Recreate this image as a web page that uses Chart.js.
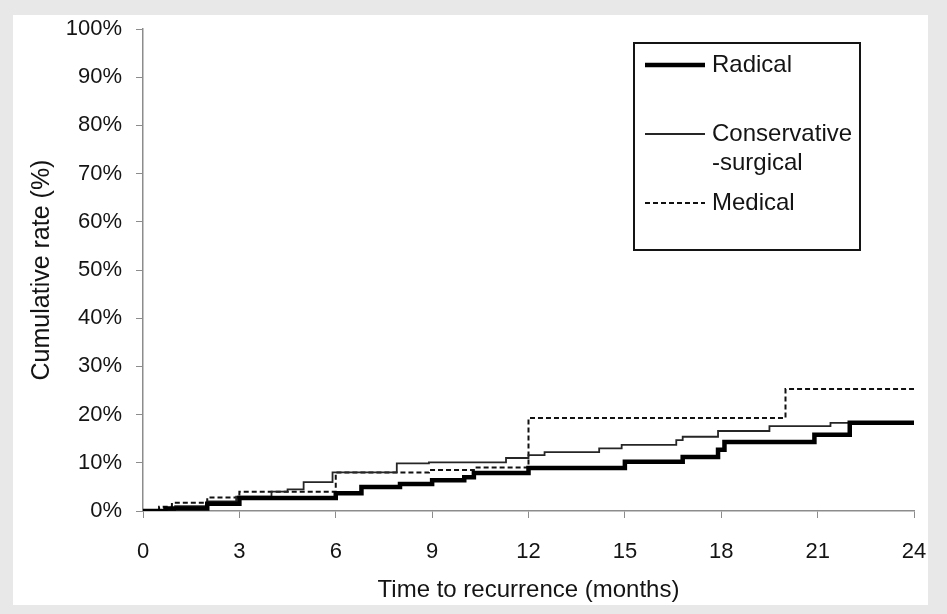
<!DOCTYPE html>
<html>
<head>
<meta charset="utf-8">
<script src="https://cdn.jsdelivr.net/npm/chart.js@4/dist/chart.umd.min.js"></script>
<style>
  html, body { margin: 0; padding: 0; background: #e8e8e8; }
  #frame { position: absolute; left: 13px; top: 15px; width: 915px; height: 590px; background: #fff; }
</style>
</head>
<body>
<div id="frame"><canvas id="km" width="915" height="590"></canvas></div>
<script>
// months at which each curve steps, and the cumulative rate (%) from that month on
const radicalMonths = [0, 0.7, 2, 3, 6, 6.8, 8, 9, 10, 10.3, 12, 15, 16.8, 17.9, 18.1, 20.9, 22, 24];
const radicalRate   = [0, 0.5, 1.5, 2.7, 3.7, 5.0, 5.6, 6.4, 7.0, 7.9, 8.9, 10.2, 11.2, 12.7, 14.3, 15.8, 18.3, 18.3];

const conservMonths = [0, 1, 2, 2.9, 4, 4.5, 5, 5.9, 7.9, 8.9, 11.3, 12, 12.5, 14.2, 14.9, 16.6, 16.8, 17.9, 19.5, 21.4, 24];
const conservRate   = [0, 1.0, 2.0, 3.0, 4.0, 4.5, 6.0, 8.0, 9.9, 10.1, 11.0, 11.6, 12.2, 13.0, 13.7, 14.7, 15.4, 16.6, 17.6, 18.3, 18.3];

const medMonths = [0, 0.5, 0.9, 2, 3, 6, 8.9, 10.3, 12, 20, 24];
const medRate   = [0, 0.9, 1.7, 2.8, 4.0, 8.0, 8.5, 9.0, 19.3, 25.3, 25.3];

const seriesNames = ['Radical', 'Conservative\n-surgical', 'Medical'];
const xTicks = [0, 3, 6, 9, 12, 15, 18, 21, 24];
const yTicks = [0, 10, 20, 30, 40, 50, 60, 70, 80, 90, 100];

function toPoints(xs, ys) {
    return xs.map((x, i) => ({x: x, y: ys[i]}));
}

const FONT = '"Liberation Sans", Arial, sans-serif';
const INK = '#141414';

//legend drawn as a framed box inside the plot, like the original
const boxLegend = {
    id: 'boxLegend',
    afterDraw(chart) {
        const ctx = chart.ctx;
        const bx = 621, by = 28, bw = 226, bh = 207;
        const rows = [50, 119, 188];
        ctx.save();
        ctx.strokeStyle = INK;
        ctx.lineWidth = 2;
        ctx.strokeRect(bx, by, bw, bh);
        ctx.font = '24px ' + FONT;
        ctx.fillStyle = INK;
        ctx.textBaseline = 'middle';
        chart.data.datasets.forEach((ds, i) => {
            const y = rows[i];
            ctx.beginPath();
            ctx.strokeStyle = ds.borderColor;
            ctx.lineWidth = ds.borderWidth;
            ctx.setLineDash(ds.borderDash || []);
            ctx.moveTo(632, y);
            ctx.lineTo(692, y);
            ctx.stroke();
            ctx.setLineDash([]);
            seriesNames[i].split('\n').forEach((line, j) => {
                ctx.fillText(line, 699, y + j * 29);
            });
        });
        ctx.restore();
    }
};

const ctx = document.querySelector('#km').getContext('2d');
const chart = new Chart(ctx, {
    type: 'line',
    data: {
        datasets: [{
            label: 'Radical',
            data: toPoints(radicalMonths, radicalRate),
            borderColor: '#000',
            borderWidth: 4.5,
            stepped: true
        }, {
            label: 'Conservative-surgical',
            data: toPoints(conservMonths, conservRate),
            borderColor: '#262626',
            borderWidth: 1.8,
            stepped: true
        }, {
            label: 'Medical',
            data: toPoints(medMonths, medRate),
            borderColor: '#111',
            borderWidth: 2,
            borderDash: [5, 3],
            stepped: true
        }]
    },
    options: {
        responsive: false,
        animation: false,
        pointRadius: 0,
        layout: { padding: { left: 14, top: 0, right: 0, bottom: 0 } },
        plugins: { legend: { display: false }, tooltip: { enabled: false } },
        scales: {
            x: {
                type: 'linear',
                min: 0, max: 24,
                afterBuildTicks: (s) => { s.ticks = xTicks.map(v => ({value: v})); },
                afterFit: (s) => { s.height = 94; s.paddingRight = 14; },
                border: { color: '#8c8c8c', width: 1.5 },
                grid: { drawOnChartArea: false, tickLength: 7, color: '#8c8c8c' },
                ticks: { padding: 21, color: INK, font: { family: FONT, size: 22 } },
                title: {
                    display: true, text: 'Time to recurrence (months)', color: INK,
                    padding: { top: 0, bottom: 0 }, font: { family: FONT, size: 24 }
                }
            },
            y: {
                min: 0, max: 100,
                afterBuildTicks: (s) => { s.ticks = yTicks.map(v => ({value: v})); },
                afterFit: (s) => { s.width = 116; s.paddingTop = 14; },
                border: { color: '#8c8c8c', width: 1.5 },
                grid: { drawOnChartArea: false, tickLength: 7, color: '#8c8c8c' },
                ticks: { padding: 14, color: INK, font: { family: FONT, size: 22 },
                         callback: (v) => v + '%' },
                title: {
                    display: true, text: 'Cumulative rate (%)', color: INK,
                    padding: { top: 0, bottom: 2 }, font: { family: FONT, size: 25 }
                }
            }
        }
    },
    plugins: [boxLegend]
});
</script>
</body>
</html>
